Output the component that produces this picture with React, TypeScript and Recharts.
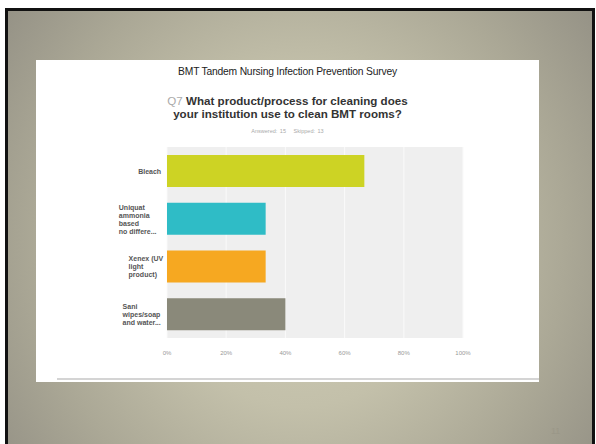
import { BarChart, Bar, XAxis, YAxis, CartesianGrid, Cell } from 'recharts'

const categories = [
  'Bleach',
  'Uniquat ammonia based no differe...',
  'Xenex (UV light product)',
  'Sani wipes/soap and water...',
]
const labelLines = [
  ['Bleach'],
  ['Uniquat', 'ammonia', 'based', 'no differe...'],
  ['Xenex (UV', 'light', 'product)'],
  ['Sani', 'wipes/soap', 'and water...'],
]
const responses = [66.67, 33.33, 33.33, 40]
const barColors = ['#cdd324', '#2fbcc6', '#f6a821', '#8a897a']
const xTicks = [0, 20, 40, 60, 80, 100]

const data = categories.map((name, i) => ({ name, value: responses[i] }))

const font = '"Liberation Sans", Arial, sans-serif'

// rough width of a bold 7px line, so the lines can sit left aligned in a right aligned block
const lineWidth = (s: string) =>
  s.split('').reduce((w, c) => w + (c === '.' ? 2 : c === ' ' ? 2 : 3.8), 0)

const CategoryTick = ({ x, y, payload }: any) => {
  const idx = categories.indexOf(payload.value)
  const lines = labelLines[idx] || [payload.value]
  const blockW = Math.max(...lines.map(lineWidth))
  const lh = 8
  const startY = y - ((lines.length - 1) * lh) / 2
  return (
    <text
      x={x - blockW}
      y={startY}
      fill="#555"
      fontSize={7}
      fontWeight="bold"
      fontFamily={font}
      textAnchor="start"
      dominantBaseline="central"
    >
      {lines.map((l, i) => (
        <tspan key={i} x={x - blockW} y={startY + i * lh}>
          {l}
        </tspan>
      ))}
    </text>
  )
}

export default function App() {
  return (
    <div
      style={{
        position: 'fixed',
        left: 0,
        top: 0,
        width: 596,
        height: 444,
        background: '#fff',
        overflow: 'hidden',
        fontFamily: font,
      }}
    >
      {/* slide frame */}
      <div
        style={{
          position: 'absolute',
          left: 5,
          top: 8,
          width: 584,
          height: 460,
          border: '3px solid #111',
          background:
            'radial-gradient(ellipse 65% 90% at 50% 50%, #d0ceb8 0%, #c3c0aa 40%, #aba896 70%, #918e83 100%)',
        }}
      />
      {/* white content panel */}
      <div
        style={{
          position: 'absolute',
          left: 36,
          top: 60,
          width: 503,
          height: 322,
          background: '#fff',
        }}
      />
      <div
        style={{
          position: 'absolute',
          left: 57,
          top: 378,
          width: 482,
          height: 2,
          background: '#d4d4d4',
        }}
      />
      <div
        style={{
          position: 'absolute',
          left: 36,
          top: 66,
          width: 503,
          textAlign: 'center',
          fontSize: 10.3,
          color: '#222',
          letterSpacing: -0.2,
        }}
      >
        BMT Tandem Nursing Infection Prevention Survey
      </div>
      <div
        style={{
          position: 'absolute',
          left: 36,
          top: 94,
          width: 503,
          textAlign: 'center',
          fontSize: 11.6,
          lineHeight: '13px',
          fontWeight: 'bold',
          color: '#333',
        }}
      >
        <span style={{ color: '#aaa', fontWeight: 'normal' }}>Q7 </span>
        What product/process for cleaning does
        <br />
        your institution use to clean BMT rooms?
      </div>
      <div
        style={{
          position: 'absolute',
          left: 36,
          top: 128,
          width: 503,
          textAlign: 'center',
          fontSize: 5.5,
          color: '#aaa',
          wordSpacing: 1,
        }}
      >
        Answered: 15 &nbsp; Skipped: 13
      </div>
      <div style={{ position: 'absolute', left: 36, top: 60 }}>
        <BarChart
          width={503}
          height={322}
          data={data}
          layout="vertical"
          margin={{ top: 87, right: 76, bottom: 24, left: 0 }}
          barCategoryGap="17%"
        >
          <CartesianGrid
            horizontal={false}
            vertical={true}
            fill="#efefef"
            stroke="#fafafa"
            strokeWidth={1}
          />
          <XAxis
            type="number"
            domain={[0, 100]}
            ticks={xTicks}
            tickFormatter={(v) => `${v}%`}
            axisLine={false}
            tickLine={false}
            tickMargin={7}
            height={20}
            tick={{ fill: '#999', fontSize: 6, fontFamily: font }}
          />
          <YAxis
            type="category"
            dataKey="name"
            width={131}
            axisLine={false}
            tickLine={false}
            tickMargin={0}
            tick={<CategoryTick />}
          />
          <Bar dataKey="value" isAnimationActive={false}>
            {data.map((d, i) => (
              <Cell key={d.name} fill={barColors[i]} />
            ))}
          </Bar>
        </BarChart>
      </div>
      <div
        style={{
          position: 'absolute',
          left: 551,
          top: 426,
          fontSize: 9,
          color: '#9a9788',
        }}
      >
        11
      </div>
    </div>
  )
}
